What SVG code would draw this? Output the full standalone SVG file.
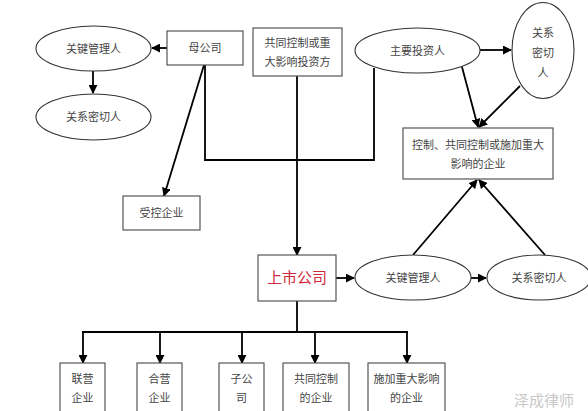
<svg xmlns="http://www.w3.org/2000/svg" width="588" height="411" viewBox="0 0 588 411">
<defs>
<marker id="ah" viewBox="0 0 10 10" refX="9" refY="5" markerWidth="5" markerHeight="5" orient="auto" markerUnits="strokeWidth">
<path d="M0,0 L10,5 L0,10 z" fill="#000"/>
</marker>
<style>
.box{fill:#fff;stroke:#555;stroke-width:1.2}
.ell{fill:#fff;stroke:#333;stroke-width:1.1}
.t{font-family:"Liberation Serif","Noto Sans CJK SC",serif;font-size:11px;fill:#444;text-anchor:middle}
.red{font-size:15px;fill:#d0283c}
.c{fill:none;stroke:#000;stroke-width:1.8}
.ca{fill:none;stroke:#000;stroke-width:1.8;marker-end:url(#ah)}
.wm{font-family:"Noto Sans CJK SC",sans-serif;font-size:15px;fill:#c8c8c8}
</style>
</defs>
<rect width="588" height="411" fill="#fff"/>
<g id="connectors">
<line class="ca" x1="167" y1="48" x2="152" y2="48"/>
<line class="ca" x1="93" y1="71" x2="93" y2="93"/>
<line class="ca" x1="204" y1="65" x2="164" y2="196"/>
<polyline class="c" points="205,65 205,160 374,160 374,68"/>
<line class="ca" x1="297" y1="76" x2="297" y2="255"/>
<line class="ca" x1="480" y1="50" x2="511" y2="50"/>
<line class="ca" x1="462" y1="67" x2="478" y2="127"/>
<line class="ca" x1="520" y1="86" x2="479" y2="127"/>
<line class="ca" x1="336" y1="278" x2="354" y2="278"/>
<line class="ca" x1="471" y1="278" x2="486" y2="278"/>
<line class="ca" x1="413" y1="255" x2="477" y2="180"/>
<line class="ca" x1="545" y1="255" x2="479" y2="180"/>
<line class="c" x1="297" y1="301" x2="297" y2="332"/>
<line class="c" x1="82" y1="332" x2="408" y2="332"/>
<line class="ca" x1="83" y1="332" x2="83" y2="363"/>
<line class="ca" x1="160" y1="332" x2="160" y2="363"/>
<line class="ca" x1="242" y1="332" x2="242" y2="363"/>
<line class="ca" x1="315" y1="332" x2="315" y2="363"/>
<line class="ca" x1="407" y1="332" x2="407" y2="363"/>
</g>
<g id="key-mgr-top"><ellipse class="ell" cx="93.5" cy="48.5" rx="57.5" ry="22.5"/><text class="t" x="93.5" y="52.5">关键管理人</text></g>
<g id="close-top-left"><ellipse class="ell" cx="93.5" cy="117" rx="57.5" ry="23"/><text class="t" x="93.5" y="121">关系密切人</text></g>
<g id="parent"><rect class="box" x="167" y="31" width="76" height="34"/><text class="t" x="205" y="52">母公司</text></g>
<g id="joint-investor"><rect class="box" x="253" y="28" width="89" height="48"/><text class="t" x="297.5" y="47">共同控制或重</text><text class="t" x="297.5" y="66">大影响投资方</text></g>
<g id="main-investor"><ellipse class="ell" cx="417.5" cy="50.5" rx="62.5" ry="22.5"/><text class="t" x="417.5" y="54.5">主要投资人</text></g>
<g id="close-top-right"><ellipse class="ell" cx="543" cy="50.5" rx="31" ry="48"/><text class="t" x="543" y="37">关系</text><text class="t" x="543" y="57">密切</text><text class="t" x="543" y="77">人</text></g>
<g id="controlled-enterprise"><rect class="box" x="403" y="128" width="150" height="51"/><text class="t" x="478" y="149">控制、共同控制或施加重大</text><text class="t" x="478" y="168">影响的企业</text></g>
<g id="subsidiary-ctrl"><rect class="box" x="123" y="196" width="77" height="34"/><text class="t" x="161.5" y="217">受控企业</text></g>
<g id="listed"><rect class="box" x="258" y="255" width="78" height="46"/><text class="t red" x="297" y="283">上市公司</text></g>
<g id="key-mgr"><ellipse class="ell" cx="413" cy="277.5" rx="58" ry="22.5"/><text class="t" x="413" y="281.5">关键管理人</text></g>
<g id="close"><ellipse class="ell" cx="539" cy="277.5" rx="52" ry="22.5"/><text class="t" x="539" y="281.5">关系密切人</text></g>
<g id="associate"><rect class="box" x="60" y="363" width="45" height="52"/><text class="t" x="82.5" y="383">联营</text><text class="t" x="82.5" y="402">企业</text></g>
<g id="jv"><rect class="box" x="137" y="363" width="45" height="52"/><text class="t" x="159.5" y="383">合营</text><text class="t" x="159.5" y="402">企业</text></g>
<g id="sub"><rect class="box" x="219" y="363" width="45" height="52"/><text class="t" x="241.5" y="383">子公</text><text class="t" x="241.5" y="402">司</text></g>
<g id="joint-ctrl"><rect class="box" x="283" y="363" width="66" height="52"/><text class="t" x="316" y="383">共同控制</text><text class="t" x="316" y="402">的企业</text></g>
<g id="sig-infl"><rect class="box" x="368" y="363" width="77" height="52"/><text class="t" x="406.5" y="383">施加重大影响</text><text class="t" x="406.5" y="402">的企业</text></g>
<text class="wm" x="514" y="406">泽成律师</text>
</svg>
